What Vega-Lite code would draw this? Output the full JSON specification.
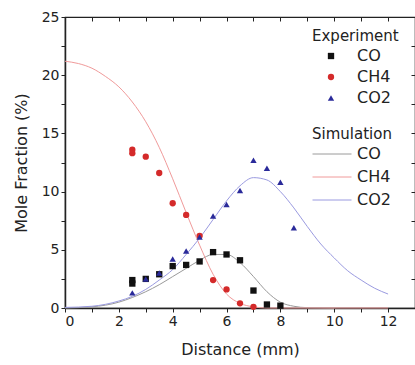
{
  "$schema": "https://vega.github.io/schema/vega-lite/v6.json",
  "width": 350,
  "height": 291,
  "autosize": {"type": "none"},
  "padding": {"left": 65, "top": 17, "right": 0, "bottom": 57},
  "background": "white",
  "config": {
    "font": "DejaVu Sans",
    "view": {"stroke": "#222222", "strokeWidth": 1.2},
    "axis": {"grid": false, "domainColor": "#222222", "domainWidth": 1.5, "tickColor": "#222222", "labelColor": "#222222", "titleColor": "#222222", "labelFontSize": 14, "titleFontSize": 16, "titleFontWeight": "normal"},
    "legend": {"titleFontWeight": "normal", "titleFontSize": 15, "labelFontSize": 16, "titleColor": "#222222", "labelColor": "#222222"}
  },
  "datasets": {
    "exp": [
      {"species": "CO", "x": 2.5, "y": 2.4}, {"species": "CO", "x": 2.5, "y": 2.1}, {"species": "CO", "x": 3.0, "y": 2.5}, {"species": "CO", "x": 3.5, "y": 2.9},
      {"species": "CO", "x": 4.0, "y": 3.6}, {"species": "CO", "x": 4.5, "y": 3.7}, {"species": "CO", "x": 5.0, "y": 4.0}, {"species": "CO", "x": 5.5, "y": 4.8},
      {"species": "CO", "x": 6.0, "y": 4.6}, {"species": "CO", "x": 6.5, "y": 4.1}, {"species": "CO", "x": 7.0, "y": 1.5}, {"species": "CO", "x": 7.5, "y": 0.3}, {"species": "CO", "x": 8.0, "y": 0.2},
      {"species": "CH4", "x": 2.5, "y": 13.6}, {"species": "CH4", "x": 2.5, "y": 13.3}, {"species": "CH4", "x": 3.0, "y": 13.0}, {"species": "CH4", "x": 3.5, "y": 11.6},
      {"species": "CH4", "x": 4.0, "y": 9.0}, {"species": "CH4", "x": 4.5, "y": 8.0}, {"species": "CH4", "x": 5.0, "y": 6.2}, {"species": "CH4", "x": 5.5, "y": 2.4},
      {"species": "CH4", "x": 6.0, "y": 1.6}, {"species": "CH4", "x": 6.5, "y": 0.4}, {"species": "CH4", "x": 7.0, "y": 0.1},
      {"species": "CO2", "x": 2.5, "y": 1.3}, {"species": "CO2", "x": 3.0, "y": 2.5}, {"species": "CO2", "x": 3.5, "y": 3.0}, {"species": "CO2", "x": 4.0, "y": 4.2},
      {"species": "CO2", "x": 4.5, "y": 4.9}, {"species": "CO2", "x": 5.0, "y": 6.1}, {"species": "CO2", "x": 5.5, "y": 7.9}, {"species": "CO2", "x": 6.0, "y": 8.9},
      {"species": "CO2", "x": 6.5, "y": 10.1}, {"species": "CO2", "x": 7.0, "y": 12.7}, {"species": "CO2", "x": 7.5, "y": 12.0}, {"species": "CO2", "x": 8.0, "y": 10.8}, {"species": "CO2", "x": 8.5, "y": 6.9}
    ],
    "sim": [
      {"species": "CO", "x": 0, "y": 0}, {"species": "CO", "x": 1, "y": 0.1}, {"species": "CO", "x": 2, "y": 0.5}, {"species": "CO", "x": 2.5, "y": 0.9},
      {"species": "CO", "x": 3, "y": 1.4}, {"species": "CO", "x": 3.5, "y": 2.0}, {"species": "CO", "x": 4, "y": 2.7}, {"species": "CO", "x": 4.5, "y": 3.4},
      {"species": "CO", "x": 5, "y": 4.1}, {"species": "CO", "x": 5.5, "y": 4.6}, {"species": "CO", "x": 6, "y": 4.6}, {"species": "CO", "x": 6.5, "y": 3.9},
      {"species": "CO", "x": 7, "y": 2.7}, {"species": "CO", "x": 7.5, "y": 1.4}, {"species": "CO", "x": 8, "y": 0.5}, {"species": "CO", "x": 8.5, "y": 0.15},
      {"species": "CO", "x": 9, "y": 0.03}, {"species": "CO", "x": 10, "y": 0},
      {"species": "CH4", "x": 0, "y": 21.2}, {"species": "CH4", "x": 0.5, "y": 21.0}, {"species": "CH4", "x": 1, "y": 20.6}, {"species": "CH4", "x": 1.5, "y": 19.9},
      {"species": "CH4", "x": 2, "y": 19.0}, {"species": "CH4", "x": 2.5, "y": 17.7}, {"species": "CH4", "x": 3, "y": 16.0}, {"species": "CH4", "x": 3.5, "y": 13.8},
      {"species": "CH4", "x": 4, "y": 11.1}, {"species": "CH4", "x": 4.5, "y": 8.2}, {"species": "CH4", "x": 5, "y": 5.4}, {"species": "CH4", "x": 5.5, "y": 2.9},
      {"species": "CH4", "x": 6, "y": 1.2}, {"species": "CH4", "x": 6.5, "y": 0.4}, {"species": "CH4", "x": 7, "y": 0.1}, {"species": "CH4", "x": 7.5, "y": 0},
      {"species": "CH4", "x": 12, "y": 0},
      {"species": "CO2", "x": 0, "y": 0.05}, {"species": "CO2", "x": 1, "y": 0.15}, {"species": "CO2", "x": 2, "y": 0.6}, {"species": "CO2", "x": 2.5, "y": 1.0},
      {"species": "CO2", "x": 3, "y": 1.6}, {"species": "CO2", "x": 3.5, "y": 2.4}, {"species": "CO2", "x": 4, "y": 3.3}, {"species": "CO2", "x": 4.5, "y": 4.6},
      {"species": "CO2", "x": 5, "y": 6.0}, {"species": "CO2", "x": 5.5, "y": 7.6}, {"species": "CO2", "x": 6, "y": 9.2}, {"species": "CO2", "x": 6.5, "y": 10.5},
      {"species": "CO2", "x": 7, "y": 11.2}, {"species": "CO2", "x": 7.5, "y": 11.0}, {"species": "CO2", "x": 8, "y": 10.0}, {"species": "CO2", "x": 8.5, "y": 8.6},
      {"species": "CO2", "x": 9, "y": 7.0}, {"species": "CO2", "x": 9.5, "y": 5.5}, {"species": "CO2", "x": 10, "y": 4.3}, {"species": "CO2", "x": 10.5, "y": 3.2},
      {"species": "CO2", "x": 11, "y": 2.4}, {"species": "CO2", "x": 11.5, "y": 1.7}, {"species": "CO2", "x": 12, "y": 1.2}
    ]
  },
  "layer": [
    {
      "data": {"name": "sim"},
      "mark": {"type": "line", "strokeWidth": 1, "interpolate": "monotone"},
      "encoding": {
        "x": {"field": "x", "type": "quantitative", "scale": {"domain": [0, 13], "nice": false}, "axis": {"orient": "top", "labels": false, "title": null, "domain": false, "values": [0,1,2,3,4,5,6,7,8,9,10,11,12,13], "tickSize": -4}},
        "y": {"field": "y", "type": "quantitative", "scale": {"domain": [0, 25], "nice": false}, "axis": {"orient": "right", "labels": false, "title": null, "domain": false, "values": [0,2.5,5,7.5,10,12.5,15,17.5,20,22.5,25], "tickSize": -4}},
        "color": {"field": "species", "type": "nominal", "scale": {"domain": ["CO", "CH4", "CO2"], "range": ["#9a9a9a", "#f09a9a", "#9a9ae0"]},
          "legend": {"title": "Simulation", "orient": "none", "legendX": 247, "legendY": 110, "symbolType": "M-3,0H3", "symbolSize": 169, "symbolStrokeWidth": 1, "symbolOffset": 12, "labelOffset": 17, "rowPadding": 7, "titlePadding": 4}},
        "detail": {"field": "species"}
      }
    },
    {
      "data": {"name": "exp"},
      "mark": {"type": "point", "filled": true, "size": 40, "opacity": 1},
      "encoding": {
        "x": {"field": "x", "type": "quantitative", "title": "Distance (mm)", "scale": {"domain": [0, 13], "nice": false}, "axis": {"orient": "bottom", "values": [0,1,2,3,4,5,6,7,8,9,10,11,12,13], "labelExpr": "datum.value % 2 == 0 && datum.value <= 12 ? datum.label : ''", "tickSize": 4, "titlePadding": 13}},
        "y": {"field": "y", "type": "quantitative", "title": "Mole Fraction (%)", "scale": {"domain": [0, 25], "nice": false}, "axis": {"orient": "left", "values": [0,2.5,5,7.5,10,12.5,15,17.5,20,22.5,25], "labelExpr": "datum.value % 5 == 0 ? datum.label : ''", "tickSize": 4, "titlePadding": 12}},
        "color": {"field": "species", "type": "nominal", "scale": {"domain": ["CO", "CH4", "CO2"], "range": ["#111111", "#d42a2a", "#2a2a9a"]},
          "legend": {"title": "Experiment", "orient": "none", "legendX": 247, "legendY": 12, "symbolOffset": 11, "labelOffset": 18, "rowPadding": 5, "titlePadding": 4, "symbolSize": 40}},
        "shape": {"field": "species", "type": "nominal", "scale": {"domain": ["CO", "CH4", "CO2"], "range": ["square", "circle", "triangle-up"]},
          "legend": {"title": "Experiment", "orient": "none", "legendX": 247, "legendY": 12, "symbolOffset": 11, "labelOffset": 18, "rowPadding": 5, "titlePadding": 4, "symbolSize": 40}}
      }
    }
  ],
  "resolve": {"scale": {"color": "independent", "shape": "independent"}, "axis": {"x": "independent", "y": "independent"}}
}
